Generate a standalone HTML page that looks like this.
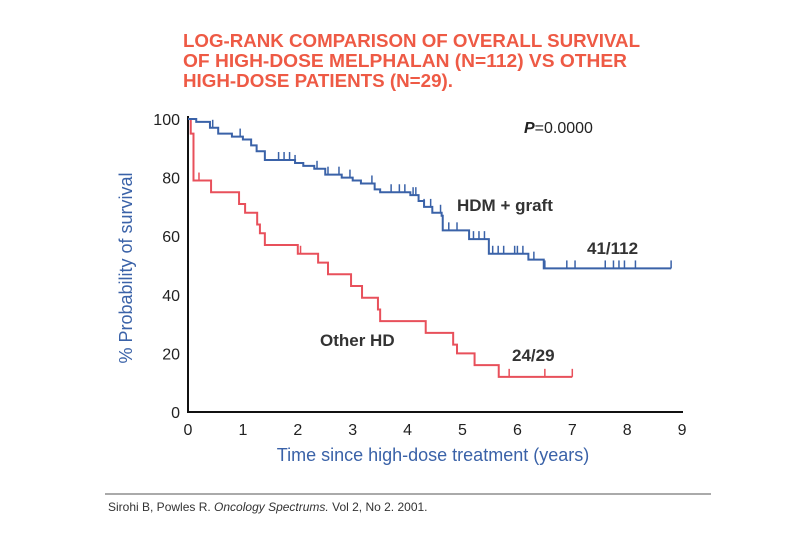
<!DOCTYPE html>
<html><head><meta charset="utf-8"><style>
html,body{margin:0;padding:0;background:#fff;}
svg{display:block;font-family:"Liberation Sans",sans-serif;}
</style></head><body>
<svg id="chart" width="810" height="540" viewBox="0 0 810 540">
<g fill="#ee5a45" font-weight="bold" font-size="18">
<text x="183" y="47" textLength="457" lengthAdjust="spacingAndGlyphs">LOG-RANK COMPARISON OF OVERALL SURVIVAL</text>
<text x="183" y="67" textLength="444" lengthAdjust="spacingAndGlyphs">OF HIGH-DOSE MELPHALAN (N=112) VS OTHER</text>
<text x="183" y="87" textLength="270" lengthAdjust="spacingAndGlyphs">HIGH-DOSE PATIENTS (N=29).</text>
</g>
<g id="axes"></g>
<g id="series"></g>
<text x="524" y="133" font-size="16" fill="#222"><tspan font-style="italic" font-weight="bold">P</tspan>=0.0000</text>
<text x="457" y="211" font-size="17" font-weight="bold" fill="#333">HDM + graft</text>
<text x="587" y="254" font-size="17" font-weight="bold" fill="#333">41/112</text>
<text x="320" y="346" font-size="17" font-weight="bold" fill="#333">Other HD</text>
<text x="512" y="361" font-size="17" font-weight="bold" fill="#333">24/29</text>
<text transform="translate(132,268) rotate(-90)" text-anchor="middle" font-size="18" fill="#3a62a8">% Probability of survival</text>
<text x="433" y="461" text-anchor="middle" font-size="18" fill="#3a62a8">Time since high-dose treatment (years)</text>
<line x1="105" y1="494" x2="711" y2="494" stroke="#555" stroke-width="1"/>
<text x="108" y="511" font-size="12" fill="#333">Sirohi B, Powles R. <tspan font-style="italic">Oncology Spectrums.</tspan> Vol 2, No 2. 2001.</text>
</svg>
<script>
const xTicks = [0,1,2,3,4,5,6,7,8,9];
const yTicks = [0,20,40,60,80,100];
const hdmTimes = [0,0.15,0.4,0.55,0.8,1.0,1.15,1.25,1.4,1.95,2.1,2.3,2.5,2.8,3.0,3.15,3.4,3.5,4.05,4.2,4.3,4.45,4.62,4.64,5.12,5.48,6.2,6.48,8.8];
const hdmSurv  = [100,99,97,95,94,93,91,89,86,85,84,83,81,80,79,78,76,75,74,72,70,68,67,62,59,54,52,49,49];
const hdmCensor = [0.45,0.95,1.65,1.75,1.85,1.95,2.35,2.55,2.75,2.95,3.35,3.7,3.85,3.95,4.1,4.15,4.3,4.42,4.6,4.75,4.9,5.2,5.3,5.4,5.55,5.65,5.75,5.95,6.0,6.1,6.3,6.5,6.9,7.05,7.6,7.75,7.85,7.95,8.15,8.8];
const otherTimes = [0,0.05,0.1,0.42,0.93,1.04,1.26,1.31,1.4,2.0,2.37,2.55,2.97,3.17,3.46,3.5,4.33,4.83,4.9,5.22,5.66,7.0];
const otherSurv  = [100,95,79,75,71,68,64,61,57,54,51,47,43,39,35,31,27,23,20,16,12,12];
const otherCensor = [0.2,2.05,5.85,6.5,7.0];
const X = t => 188 + t*54.9;
const Y = v => 412 - v*2.93;
const NS = "http://www.w3.org/2000/svg";
function mk(tag, attrs, parent){const e=document.createElementNS(NS,tag);for(const k in attrs)e.setAttribute(k,attrs[k]);parent.appendChild(e);return e;}
const axes=document.getElementById('axes');
let a=mk('line',{x1:188,y1:116,x2:188,y2:413,stroke:'#111','stroke-width':2},axes);


a=mk('line',{x1:187,y1:412,x2:683,y2:412,stroke:'#111','stroke-width':2},axes);


xTicks.forEach(t=>{
  const e=mk('text',{x:X(t),y:435,'text-anchor':'middle','font-size':16,fill:'#222'},axes);
  e.textContent=t;
  
  
});
yTicks.forEach(v=>{
  const e=mk('text',{x:180,y:Y(v)+6,'text-anchor':'end','font-size':16,fill:'#222'},axes);
  e.textContent=v;
  
  
});
function stepPath(ts,vs){let d=`M${X(ts[0])},${Y(vs[0])}`;for(let i=1;i<ts.length;i++){d+=` H${X(ts[i])} V${Y(vs[i])}`;}return d;}
function survAt(ts,vs,t){let v=vs[0];for(let i=0;i<ts.length;i++){if(ts[i]<=t)v=vs[i];}return v;}
const ser=document.getElementById('series');
function draw(ts,vs,cens,color,name){
  const g=mk('g',{},ser);
  
  
  const p=mk('path',{d:stepPath(ts,vs),fill:'none',stroke:color,'stroke-width':2},g);
  
  
  cens.forEach(t=>{
    const y=Y(survAt(ts,vs,t));
    const l=mk('line',{x1:X(t),y1:y,x2:X(t),y2:y-8,stroke:color,'stroke-width':1.5},g);
    
    
  });
}
draw(otherTimes,otherSurv,otherCensor,'#e8505b','other-hd');
draw(hdmTimes,hdmSurv,hdmCensor,'#3a62a8','hdm-graft');
</script>
</body></html>
